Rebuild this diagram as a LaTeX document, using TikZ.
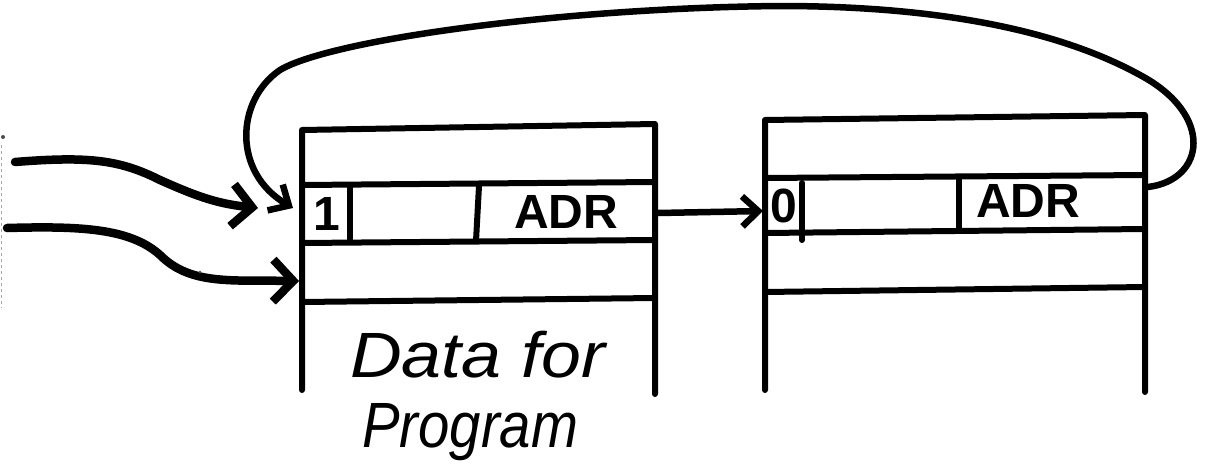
\documentclass[tikz,border=0pt]{standalone}
\usepackage{fontspec}
\setmainfont{Liberation Sans}
\usetikzlibrary{arrows.meta}
\tikzset{
  ink/.style={line width=6pt, line cap=round, line join=round},
  feed/.style={line width=8.5pt, line cap=round, line join=round,
    -{Straight Barb[length=20pt,width=42pt,line width=8.5pt]}},
  link/.style={line width=6.5pt, line cap=round, line join=round,
    -{Straight Barb[length=16pt,width=30pt,line width=6.5pt]}},
  fieldtext/.style={font=\fontsize{48}{48}\selectfont\bfseries, inner sep=0pt},
  caption/.style={font=\fontsize{64}{64}\selectfont\itshape, inner sep=0pt,
    anchor=base west},
  speck/.style={fill=black!70, draw=none}
}
\begin{document}
\begin{tikzpicture}[x=1pt,y=-1pt]
  \useasboundingbox (0,0) rectangle (1226,474);

  % ---- first block (program) ----
  \draw[ink] (302,390) -- (302,130) -- (655,124) -- (655,394);
  \draw[ink] (302,185) -- (655,182);
  \draw[ink] (302,243) -- (655,240);
  \draw[ink] (302,302) -- (655,298);
  \draw[ink] (350,186) -- (350,242);
  \draw[ink] (479,186) -- (476,241);

  % ---- second block ----
  \draw[ink] (765,390) -- (765,120) -- (1145,115) -- (1145,392);
  \draw[ink] (765,178) -- (1145,175);
  \draw[ink] (765,233) -- (1145,229);
  \draw[ink] (765,292) -- (1145,287);
  \draw[ink] (802,183) -- (802,240);
  \draw[ink] (959,178) -- (959,228);

  % ---- field contents ----
  \node[fieldtext] (flagA) at (327,214) {1};
  \node[fieldtext] (adrA)  at (566,212) {ADR};
  \node[fieldtext] (flagB) at (784,206) {0};
  \node[fieldtext] (adrB)  at (1028,201) {ADR};

  \node[caption, xscale=1.12] (capA) at (350,377) {Data for};
  \node[caption, xscale=0.88] (capB) at (362,447) {Program};

  % ---- anchor points for the connectors ----
  \coordinate (srcA) at (15,162);
  \coordinate (srcB) at (7,228);
  \coordinate (tipA) at (258,208);
  \coordinate (inB)  at (299,281);
  \coordinate (outA) at (658,213);
  \coordinate (inC)  at (763,211);
  \coordinate (outC) at (1148,187);
  \coordinate (inA)  at (293,208);
  \coordinate (loopR) at (1140,75);
  \coordinate (loopT) at (780,6);
  \coordinate (loopL) at (280,70);

  % ---- connectors ----
  \draw[feed] (srcA) .. controls (90,156) and (120,160) .. (160,180)
                     .. controls (200,198) and (220,204) .. (tipA);
  \draw[feed] (srcB) .. controls (80,226) and (130,228) .. (160,255)
                     .. controls (190,285) and (230,280) .. (inB);
  \draw[link] (outA) -- (inC);
  \draw[link] (outC) .. controls (1205,180) and (1215,115) .. (loopR)
                     .. controls (1040,20) and (900,6) .. (loopT)
                     .. controls (560,8) and (330,40) .. (loopL)
                     .. controls (236,100) and (232,172) .. (inA);

  % ---- scan marks ----
  \draw[black!35, line width=1.2pt, dash pattern=on 3pt off 3pt] (1.5,145) -- (1.5,308);
  \fill[speck] (3,137) circle (2pt);
  \fill[speck] (200,272) circle (1.5pt);
\end{tikzpicture}
\end{document}
